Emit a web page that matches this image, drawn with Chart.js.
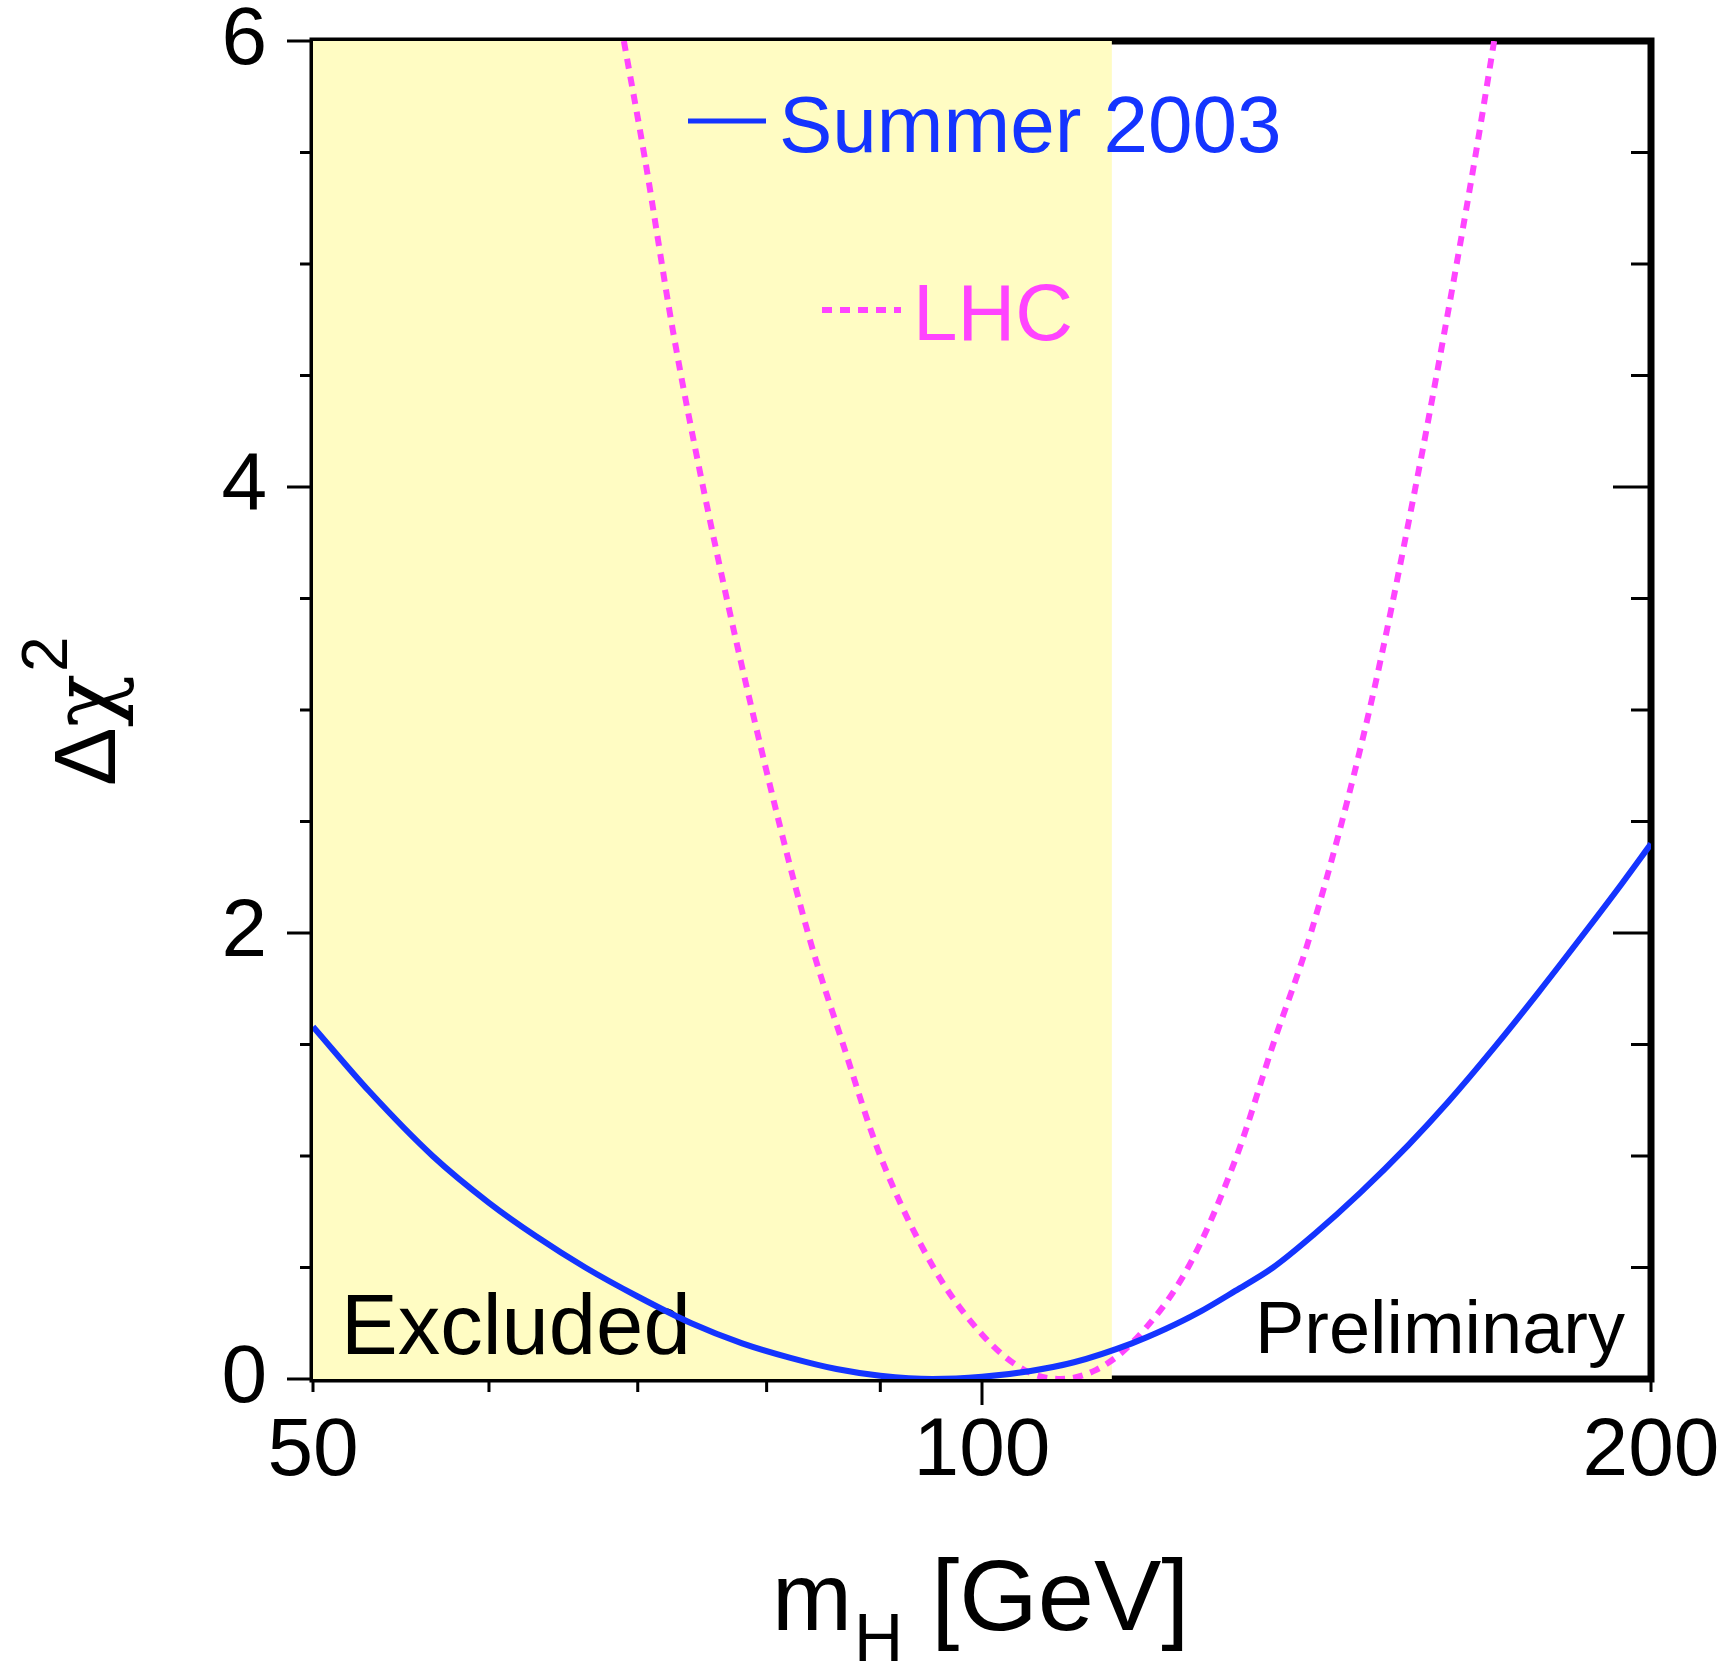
<!DOCTYPE html>
<html>
<head>
<meta charset="utf-8">
<script src="https://cdn.jsdelivr.net/npm/chart.js@4.4.1/dist/chart.umd.min.js"></script>
<style>
  body { margin: 0; background: #fff; }
  canvas { display: block; }
</style>
</head>
<body>
<canvas id="myChart" width="1724" height="1664"></canvas>
<script>
const ctx = document.getElementById('myChart');

// Summer 2003 fit (blue, solid)
var summerMass = [50, 53, 56.6, 60, 63, 66.3, 70, 74, 78, 82, 86, 90, 95, 100, 105, 110, 116.8, 121, 125, 130, 135.2, 141, 148, 155.5, 162, 170, 178, 187, 194, 200]
var summerChi2 = [1.58, 1.29, 1.0, 0.79, 0.64, 0.5, 0.37, 0.25, 0.16, 0.095, 0.045, 0.015, 0.0, 0.01, 0.035, 0.075, 0.16, 0.225, 0.295, 0.395, 0.50, 0.647, 0.836, 1.048, 1.24, 1.486, 1.734, 2.01, 2.22, 2.40]

// LHC projection (magenta, dotted)
var lhcMass = [69.0, 70.5, 72.6, 74.9, 78.8, 83.5, 86.6, 90.0, 95.1, 100, 104.5, 108.5, 112.5, 116.9, 123.8, 130.2, 135.2, 140.6, 149.4, 156.7, 161.5, 166.7, 170.0]
var lhcChi2 = [6.0, 5.48, 4.7, 4.0, 3.0, 2.0, 1.5, 1.0, 0.5, 0.2, 0.04, 0.0, 0.04, 0.165, 0.5, 1.0, 1.5, 2.0, 3.0, 4.0, 4.7, 5.48, 6.0]

// axes
var xTicks = [50, 100, 200]
var xMinorTicks = [60, 70, 80, 90]
var yTicks = [0, 2, 4, 6]
var yMinorTicks = [0.5, 1, 1.5, 2.5, 3, 3.5, 4.5, 5, 5.5]
var excludedLimit = 114.4

const FONT = "'Liberation Sans', Arial, Helvetica, sans-serif"
const BLUE = '#1434ff'
const MAGENTA = '#ff44ff'
const YELLOW = '#fffcc3'

function toPoints(xs, ys) {
  let res = []
  for (var i = 0; i < xs.length; i++) res.push({x: xs[i], y: ys[i]})
  return res
}

function noPadding(scale) {
  scale.paddingLeft = 0
  scale.paddingRight = 0
  scale.paddingTop = 0
  scale.paddingBottom = 0
}

// band, frame, ticks, in-plot labels and legend
const decorations = {
  id: 'decorations',
  beforeDatasetsDraw(chart) {
    const c = chart.ctx
    const a = chart.chartArea
    const x = chart.scales.x, y = chart.scales.y
    c.save()
    // frame
    c.strokeStyle = '#000'
    c.lineWidth = 7
    c.strokeRect(a.left, a.top, a.right - a.left, a.bottom - a.top)
    // excluded band
    const xb = x.getPixelForValue(excludedLimit)
    c.fillStyle = YELLOW
    c.fillRect(a.left, a.top, xb - a.left, a.bottom - a.top)

    // tick marks
    c.lineWidth = 3
    c.beginPath()
    yTicks.concat(yMinorTicks).forEach(function (v) {
      const py = y.getPixelForValue(v)
      const major = yTicks.indexOf(v) >= 0
      c.moveTo(a.left - (major ? 26 : 13), py); c.lineTo(a.left, py)
      c.moveTo(a.right - (major ? 38 : 20), py); c.lineTo(a.right, py)
    })
    xTicks.concat(xMinorTicks).forEach(function (v) {
      const px = x.getPixelForValue(v)
      c.moveTo(px, a.bottom); c.lineTo(px, a.bottom + (v === 100 ? 26 : 13))
    })
    c.stroke()

    // labels
    c.fillStyle = '#000'
    c.textBaseline = 'alphabetic'
    c.font = '85px ' + FONT
    c.textAlign = 'left'
    c.fillText('Excluded', a.left + 28, a.bottom - 25)
    c.font = '74px ' + FONT
    c.textAlign = 'right'
    c.fillText('Preliminary', a.right - 26, a.bottom - 26)

    // legend
    c.textAlign = 'left'
    c.font = '80px ' + FONT
    c.lineWidth = 5
    c.strokeStyle = BLUE
    c.beginPath(); c.moveTo(a.left + 375, a.top + 80); c.lineTo(a.left + 453, a.top + 80); c.stroke()
    c.fillStyle = BLUE
    c.fillText('Summer 2003', a.left + 466, a.top + 111)
    c.strokeStyle = MAGENTA
    c.lineWidth = 6
    c.setLineDash([10, 8])
    c.beginPath(); c.moveTo(a.left + 509, a.top + 269); c.lineTo(a.left + 588, a.top + 269); c.stroke()
    c.setLineDash([])
    c.fillStyle = MAGENTA
    c.fillText('LHC', a.left + 600, a.top + 299)
    c.restore()
  },
  afterDraw(chart) {
    const c = chart.ctx
    c.save()
    c.fillStyle = '#000'
    c.textAlign = 'left'
    c.textBaseline = 'alphabetic'
    // x title: m_H [GeV]
    c.font = '96px ' + FONT
    let px = 772
    const by = 1630
    c.fillText('m', px, by)
    px += c.measureText('m').width
    c.font = '68px ' + FONT
    c.fillText('H', px + 2, by + 31)
    px += c.measureText('H').width + 2
    c.font = '101px ' + FONT
    c.fillText(' [GeV]', px, by)
    // y title: delta chi^2, rotated
    c.translate(115, 786)
    c.rotate(-Math.PI / 2)
    c.font = '88px ' + FONT
    c.fillText('\u0394', 0, 0)
    let w = c.measureText('\u0394').width
    c.font = "88px 'DejaVu Serif', serif"
    c.fillText('\u03c7', w, 0)
    w += c.measureText('\u03c7').width
    c.font = '64px ' + FONT
    c.fillText('2', w + 2, -48)
    c.restore()
  }
}

let chart = new Chart(ctx, {
  type: 'scatter',
  data: {
    datasets: [{
      label: 'Summer 2003',
      data: toPoints(summerMass, summerChi2),
      showLine: true,
      borderColor: BLUE,
      borderWidth: 6,
      pointRadius: 0,
      cubicInterpolationMode: 'monotone'
    }, {
      label: 'LHC',
      data: toPoints(lhcMass, lhcChi2),
      showLine: true,
      borderColor: MAGENTA,
      borderWidth: 6,
      borderDash: [10, 8],
      pointRadius: 0,
      cubicInterpolationMode: 'monotone'
    }]
  },
  options: {
    responsive: false,
    animation: false,
    devicePixelRatio: 1,
    layout: { padding: { left: 0, right: 73, top: 41, bottom: 0 } },
    plugins: {
      legend: { display: false },
      tooltip: { enabled: false }
    },
    scales: {
      x: {
        type: 'logarithmic',
        min: 50,
        max: 200,
        afterBuildTicks: function (scale) {
          scale.ticks = xTicks.map(function (v) { return {value: v} })
        },
        afterFit: function (scale) { scale.height = 285; noPadding(scale) },
        grid: { display: false, drawTicks: false },
        border: { display: false },
        ticks: {
          autoSkip: false,
          maxRotation: 0,
          padding: 24,
          color: '#000',
          font: { family: FONT, size: 82 },
          callback: function (v) { return String(v) }
        }
      },
      y: {
        min: 0,
        max: 6,
        afterBuildTicks: function (scale) {
          scale.ticks = yTicks.map(function (v) { return {value: v} })
        },
        afterFit: function (scale) { scale.width = 313; noPadding(scale) },
        grid: { display: false, drawTicks: false },
        border: { display: false },
        ticks: {
          autoSkip: false,
          padding: 46,
          color: '#000',
          font: { family: FONT, size: 82 }
        }
      }
    }
  },
  plugins: [decorations]
});
</script>
</body>
</html>
